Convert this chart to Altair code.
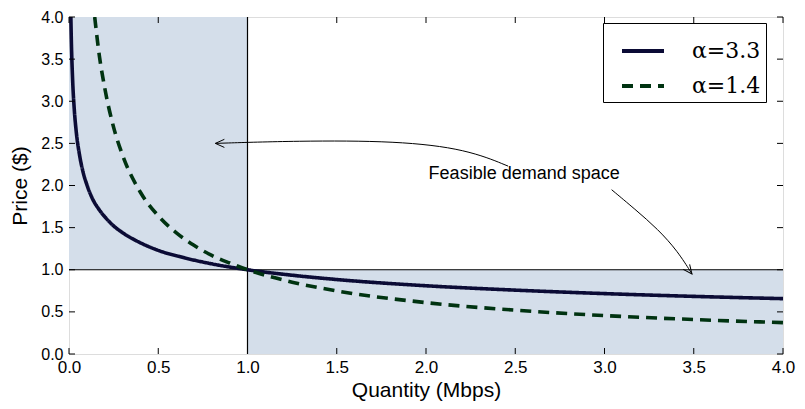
import altair as alt
import pandas as pd

# Curve values: price vs quantity
q_a33 = [0.0104, 0.013, 0.02, 0.03, 0.04, 0.06, 0.08, 0.1, 0.13, 0.17, 0.2, 0.25, 0.3, 0.4, 0.5, 0.65, 0.8, 1.0, 1.25, 1.5, 2.0, 2.5, 3.0, 3.5, 4.0]
p_a33 = [4.0, 3.73, 3.27, 2.89, 2.65, 2.35, 2.15, 2.01, 1.85, 1.71, 1.63, 1.52, 1.44, 1.32, 1.23, 1.14, 1.07, 1.0, 0.935, 0.884, 0.81, 0.758, 0.717, 0.684, 0.657]
q_a14 = [0.144, 0.17, 0.2, 0.25, 0.3, 0.4, 0.5, 0.6, 0.7, 0.8, 0.9, 1.0, 1.25, 1.5, 2.0, 2.5, 3.0, 3.5, 4.0]
p_a14 = [4.0, 3.54, 3.16, 2.69, 2.36, 1.92, 1.64, 1.44, 1.29, 1.17, 1.08, 1.0, 0.853, 0.749, 0.61, 0.52, 0.456, 0.409, 0.372]
series_names = ["α=3.3", "α=1.4"]
series_colors = ["#0b0b35", "#003311"]

# Feasible regions (x0, x1, y0, y1)
reg_x0 = [0.0, 1.0]
reg_x1 = [1.0, 4.0]
reg_y0 = [1.0, 0.0]
reg_y1 = [4.0, 1.0]

# Annotation
note_text = ["Feasible demand space"]
note_x = [2.55]
note_y = [2.14]
arrow1_x = [2.46, 2.23, 1.84, 1.27, 0.82]
arrow1_y = [2.23, 2.43, 2.53, 2.53, 2.50]
arrow2_x = [3.04, 3.17, 3.30, 3.41, 3.49]
arrow2_y = [1.95, 1.72, 1.48, 1.22, 0.95]
head_x = [0.82, 3.49]
head_y = [2.50, 0.95]
head_angle = [180, 52]

ticks = [0.0, 0.5, 1.0, 1.5, 2.0, 2.5, 3.0, 3.5, 4.0]

W, H = 714, 337

curves = pd.concat([
    pd.DataFrame({"q": q_a33, "p": p_a33, "s": series_names[0], "o": range(len(q_a33))}),
    pd.DataFrame({"q": q_a14, "p": p_a14, "s": series_names[1], "o": range(len(q_a14))}),
])
regions = pd.DataFrame({"x0": reg_x0, "x1": reg_x1, "y0": reg_y0, "y1": reg_y1})
arrows = pd.concat([
    pd.DataFrame({"x": arrow1_x, "y": arrow1_y, "a": 1, "o": range(len(arrow1_x))}),
    pd.DataFrame({"x": arrow2_x, "y": arrow2_y, "a": 2, "o": range(len(arrow2_x))}),
])
heads = pd.DataFrame({"x": head_x, "y": head_y, "ang": head_angle})
notes = pd.DataFrame({"x": note_x, "y": note_y, "t": note_text})
tickdf = pd.DataFrame({"t": ticks})
onedf = pd.DataFrame({"v": [1.0]})

xs = alt.Scale(domain=[0, 4], nice=False, zero=False)
ys = alt.Scale(domain=[0, 4], nice=False, zero=False)

xaxis = alt.Axis(values=ticks, format=".1f", ticks=False, domain=False, grid=False,
                 labelFont="Liberation Sans", labelFontSize=17, labelColor="black", labelPadding=5,
                 title="Quantity (Mbps)", titleFont="Liberation Sans", titleFontSize=21,
                 titleFontWeight="normal", titleColor="black", titlePadding=4, labelFlush=False)
yaxis = alt.Axis(values=ticks, format=".1f", ticks=False, domain=False, grid=False,
                 labelFont="Liberation Sans", labelFontSize=16, labelColor="black", labelPadding=6,
                 title="Price ($)", titleFont="Liberation Sans", titleFontSize=21,
                 titleFontWeight="normal", titleColor="black", titlePadding=10, labelFlush=False)

rects = alt.Chart(regions).mark_rect(color="#d4deea").encode(
    x=alt.X("x0:Q", scale=xs, axis=xaxis), x2="x1:Q",
    y=alt.Y("y0:Q", scale=ys, axis=yaxis), y2="y1:Q",
)

vline = alt.Chart(onedf).mark_rule(color="black", strokeWidth=1.2).encode(x=alt.X("v:Q", scale=xs))
hline = alt.Chart(onedf).mark_rule(color="black", strokeWidth=1.2).encode(y=alt.Y("v:Q", scale=ys))

leg = alt.Legend(title=None, orient="none", legendX=534, legendY=6,
                 strokeColor="black", fillColor="white", padding=5, cornerRadius=0,
                 symbolType="stroke", symbolSize=1764, symbolStrokeWidth=4, symbolOffset=12,
                 labelFont="DejaVu Serif", labelFontSize=22, labelColor="black",
                 labelOffset=26, rowPadding=1, symbolLimit=0)

lines = alt.Chart(curves).mark_line(strokeWidth=3.6, interpolate="monotone", clip=True).encode(
    x=alt.X("q:Q", scale=xs), y=alt.Y("p:Q", scale=ys),
    color=alt.Color("s:N", scale=alt.Scale(domain=series_names, range=series_colors), legend=leg),
    strokeDash=alt.StrokeDash("s:N", scale=alt.Scale(domain=series_names, range=[[1, 0], [11, 7]]), legend=leg),
    order="o:Q",
)

arr = alt.Chart(arrows).mark_line(color="black", strokeWidth=1, interpolate="basis").encode(
    x=alt.X("x:Q", scale=xs), y=alt.Y("y:Q", scale=ys), detail="a:N", order="o:Q")
hd = alt.Chart(heads).mark_point(shape="M -1 -0.45 L 0 0 L -1 0.45", filled=False, color="black",
                                 strokeWidth=1, size=324, opacity=1).encode(
    x=alt.X("x:Q", scale=xs), y=alt.Y("y:Q", scale=ys), angle=alt.Angle("ang:Q", scale=None))
txt = alt.Chart(notes).mark_text(font="Liberation Sans", fontSize=18, color="black").encode(
    x=alt.X("x:Q", scale=xs), y=alt.Y("y:Q", scale=ys), text="t:N")

tb = alt.Chart(tickdf).mark_rule(color="black", strokeWidth=1).encode(
    x=alt.X("t:Q", scale=xs), y=alt.value(H), y2=alt.value(H - 6))
tt = alt.Chart(tickdf).mark_rule(color="black", strokeWidth=1).encode(
    x=alt.X("t:Q", scale=xs), y=alt.value(0), y2=alt.value(6))
tl = alt.Chart(tickdf).mark_rule(color="black", strokeWidth=1).encode(
    y=alt.Y("t:Q", scale=ys), x=alt.value(0), x2=alt.value(6))
tr = alt.Chart(tickdf).mark_rule(color="black", strokeWidth=1).encode(
    y=alt.Y("t:Q", scale=ys), x=alt.value(W), x2=alt.value(W - 6))

chart = alt.layer(rects, vline, hline, lines, arr, hd, txt, tb, tt, tl, tr).properties(
    width=W, height=H,
    autosize=alt.AutoSizeParams(type="none"),
    padding={"left": 61, "top": 9, "right": 14, "bottom": 47},
).configure_view(stroke="black", strokeWidth=1.5).configure(background="white")

chart.save("out.html", embed_options={"renderer": "svg", "actions": False})
